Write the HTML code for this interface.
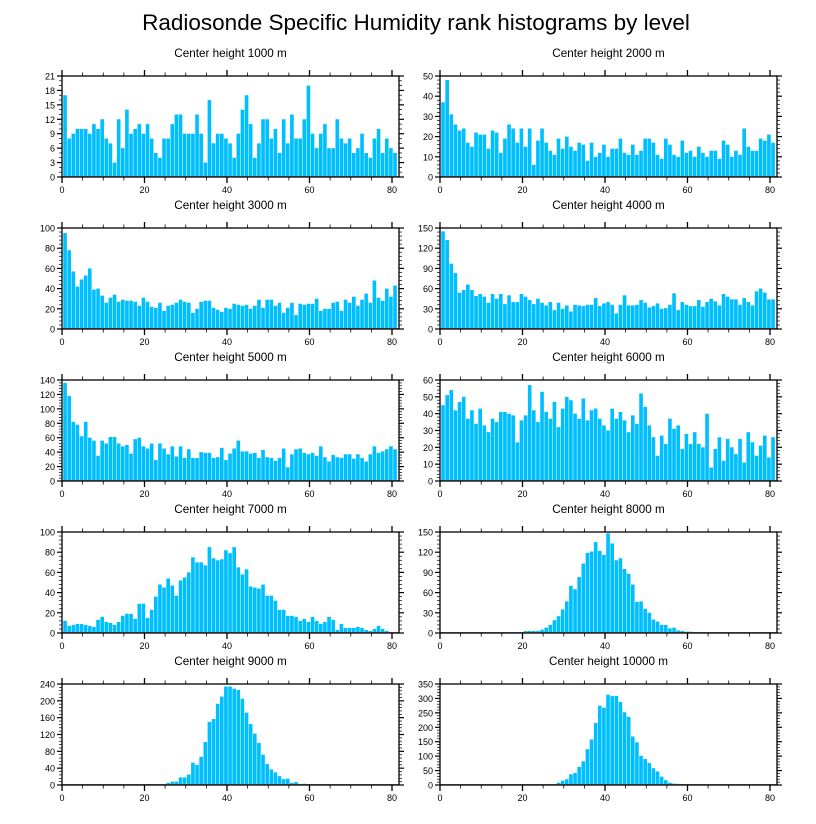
<!DOCTYPE html>
<html><head><meta charset="utf-8"><style>
html,body{margin:0;padding:0;background:#fff;}
svg{display:block;font-family:"Liberation Sans",sans-serif;}
</style></head><body>
<svg id="chart" width="816" height="824" viewBox="0 0 816 824">
<text x="416" y="30" text-anchor="middle" font-size="22.5">Radiosonde Specific Humidity rank histograms by level</text>
</svg>
<script>
const titles = ["Center height 1000 m","Center height 2000 m","Center height 3000 m","Center height 4000 m","Center height 5000 m","Center height 6000 m","Center height 7000 m","Center height 8000 m","Center height 9000 m","Center height 10000 m"];
const yMaxes = [21,50,100,150,140,60,100,150,240,350];
const ySteps = [3,10,20,30,20,10,20,30,40,50];
const xTicks = [0,20,40,60,80];
const h1000 = [17,8,9,10,10,10,9,11,10,12,8,7,3,12,6,14,9,10,11,9,11,8,5,4,8,8,11,13,13,9,9,9,13,9,3,16,7,9,9,8,7,4,9,14,17,11,4,7,12,12,8,10,5,12,7,13,8,8,12,19,9,6,9,11,6,6,12,8,7,8,5,6,9,5,4,8,10,5,8,6,5];
const h2000 = [37,48,31,26,23,24,17,15,22,21,21,14,23,22,12,19,26,24,17,24,15,24,6,18,24,17,13,11,19,14,20,15,13,17,16,8,17,10,12,16,10,14,14,19,12,11,16,11,13,19,19,17,11,9,19,16,11,10,18,12,13,10,15,12,10,13,13,9,18,16,10,13,11,24,15,13,13,19,18,21,17];
const h3000 = [95,78,57,42,49,53,60,39,40,33,26,31,34,27,29,28,28,27,23,31,27,22,21,26,18,23,24,26,29,27,26,16,20,27,28,28,21,19,17,21,20,25,24,23,24,20,23,29,21,29,29,23,26,16,21,26,14,25,24,25,25,30,18,20,20,26,27,18,29,26,32,23,29,35,26,48,31,28,40,32,43];
const h4000 = [145,132,97,83,54,58,66,58,49,52,48,39,52,45,52,37,50,40,40,52,48,43,37,45,39,35,40,28,39,30,35,26,36,35,34,36,36,46,34,38,40,36,23,36,50,35,35,36,43,39,32,34,38,30,31,36,53,28,40,36,34,34,43,33,40,45,41,35,52,48,44,44,36,46,40,35,56,60,54,44,44];
const h5000 = [136,118,82,78,62,82,60,56,35,56,52,61,61,52,48,50,38,58,60,48,45,52,29,52,45,37,48,34,48,32,44,32,32,40,39,39,32,33,46,29,38,45,56,41,41,38,39,32,43,33,32,28,32,45,19,37,44,45,39,37,39,35,48,33,27,36,33,32,37,37,31,37,32,27,37,48,39,41,44,48,44];
const h6000 = [45,51,54,42,47,50,37,42,34,43,33,29,37,35,41,41,40,39,23,36,39,57,42,35,53,41,37,47,32,43,50,48,40,37,49,36,42,43,37,33,30,43,37,41,36,29,39,34,52,44,33,26,15,27,22,37,31,33,19,28,22,29,22,20,40,8,19,26,12,25,20,16,25,11,29,23,15,21,27,14,26];
const h7000 = [12,7,8,9,9,8,7,6,13,16,11,10,8,11,17,19,19,14,29,29,15,23,36,48,45,54,47,37,52,55,60,75,70,70,67,85,74,72,73,82,79,85,65,58,63,46,45,44,48,37,37,32,23,23,17,17,16,12,14,11,16,12,9,11,16,13,3,9,5,5,5,6,5,3,2,4,7,4,2,1,1];
const h8000 = [0,0,0,0,0,0,0,0,0,0,0,0,0,0,1,0,1,0,1,1,3,3,3,3,5,8,12,19,25,35,47,70,65,83,103,119,121,135,122,116,148,133,108,111,95,88,72,46,47,36,30,20,17,12,12,7,8,4,3,2,2,1,1,0,0,0,0,0,0,0,0,0,0,0,0,0,0,0,0,0,0];
const h9000 = [0,0,0,0,0,0,0,0,0,0,0,0,0,0,0,0,0,0,0,0,1,0,0,0,2,5,8,8,18,18,25,53,48,67,102,150,157,193,210,234,234,229,226,205,172,145,122,100,72,50,37,30,21,14,15,5,7,2,3,2,1,0,1,0,0,0,1,0,0,0,0,0,0,0,0,0,0,0,0,0,0];
const h10000 = [0,0,0,0,0,0,0,0,0,0,0,0,0,0,0,0,0,0,0,0,0,0,0,0,0,0,2,3,8,15,20,37,42,63,82,124,158,215,275,268,313,308,309,288,252,236,168,148,101,90,76,58,47,29,17,8,5,4,3,2,2,1,0,0,0,0,0,0,0,0,0,0,0,0,0,0,0,0,0,0,0];
const series = [h1000,h2000,h3000,h4000,h5000,h6000,h7000,h8000,h9000,h10000];

const NS = "http://www.w3.org/2000/svg";
const svg = document.getElementById("chart");
function mk(tag, attrs, parent){
  const e = document.createElementNS(NS, tag);
  for (const k in attrs) e.setAttribute(k, attrs[k]);
  parent.appendChild(e);
  return e;
}
const XMAX = 81.7, BAR_OFF = 0.3;
for (let p = 0; p < 10; p++) {
  const col = p % 2, row = Math.floor(p / 2);
  const L = col === 0 ? 62 : 440, R = L + 337;
  const T = 76 + row * 152, B = T + 101;
  const xs = v => L + v / XMAX * (R - L);
  const ys = v => B - v / yMaxes[p] * (B - T);
  const g = mk("g", {}, svg);
  
  
  const t = mk("text", {x: (L + R) / 2, y: T - 19, "text-anchor": "middle", "font-size": "11.7"}, g);
  t.textContent = titles[p];
  
  
  const data = series[p];
  for (let i = 0; i < data.length; i++) {
    if (data[i] <= 0) continue;
    const x0 = xs(i + BAR_OFF), x1 = xs(i + 1 + BAR_OFF);
    const r = mk("rect", {x: x0, y: ys(data[i]), width: Math.max(0, x1 - x0 - 0.5), height: B - ys(data[i]), fill: "#00bfff"}, g);
    
    
  }
  mk("line", {x1: L, x2: R, y1: B - 0.5, y2: B - 0.5, stroke: "#888", "stroke-width": 1}, g);
  const f = mk("rect", {x: L, y: T, width: R - L, height: B - T, fill: "none", stroke: "#000", "stroke-width": 1.3}, g);
  
  
  for (let v = 0; v <= 80; v += 5) {
    const major = v % 20 === 0, len = major ? 6 : 3.5, x = xs(v);
    mk("line", {x1: x, x2: x, y1: B, y2: B + len, stroke: "#000", "stroke-width": major ? 1.3 : 0.8}, g);
    mk("line", {x1: x, x2: x, y1: T, y2: T - len, stroke: "#000", "stroke-width": major ? 1.3 : 0.8}, g);
  }
  for (const v of xTicks) {
    const tl = mk("text", {x: xs(v), y: B + 16, "text-anchor": "middle", "font-size": "9"}, g);
    tl.textContent = v;
    
    
  }
  const step = ySteps[p], minor = step / (step % 3 === 0 && step !== 30 ? 3 : 5);
  for (let v = 0; v <= yMaxes[p] + 1e-9; v += minor) {
    const isMaj = Math.abs(v / step - Math.round(v / step)) < 1e-6;
    const len = isMaj ? 5 : 3, y = ys(v);
    mk("line", {x1: L, x2: L - len, y1: y, y2: y, stroke: "#000", "stroke-width": isMaj ? 1.2 : 0.7}, g);
    mk("line", {x1: R, x2: R + len, y1: y, y2: y, stroke: "#000", "stroke-width": isMaj ? 1.2 : 0.7}, g);
    if (isMaj) {
      const yl = mk("text", {x: L - 7, y: y + 3.5, "text-anchor": "end", "font-size": "9"}, g);
      yl.textContent = Math.round(v);
      
      
    }
  }
}
</script>
</body></html>
